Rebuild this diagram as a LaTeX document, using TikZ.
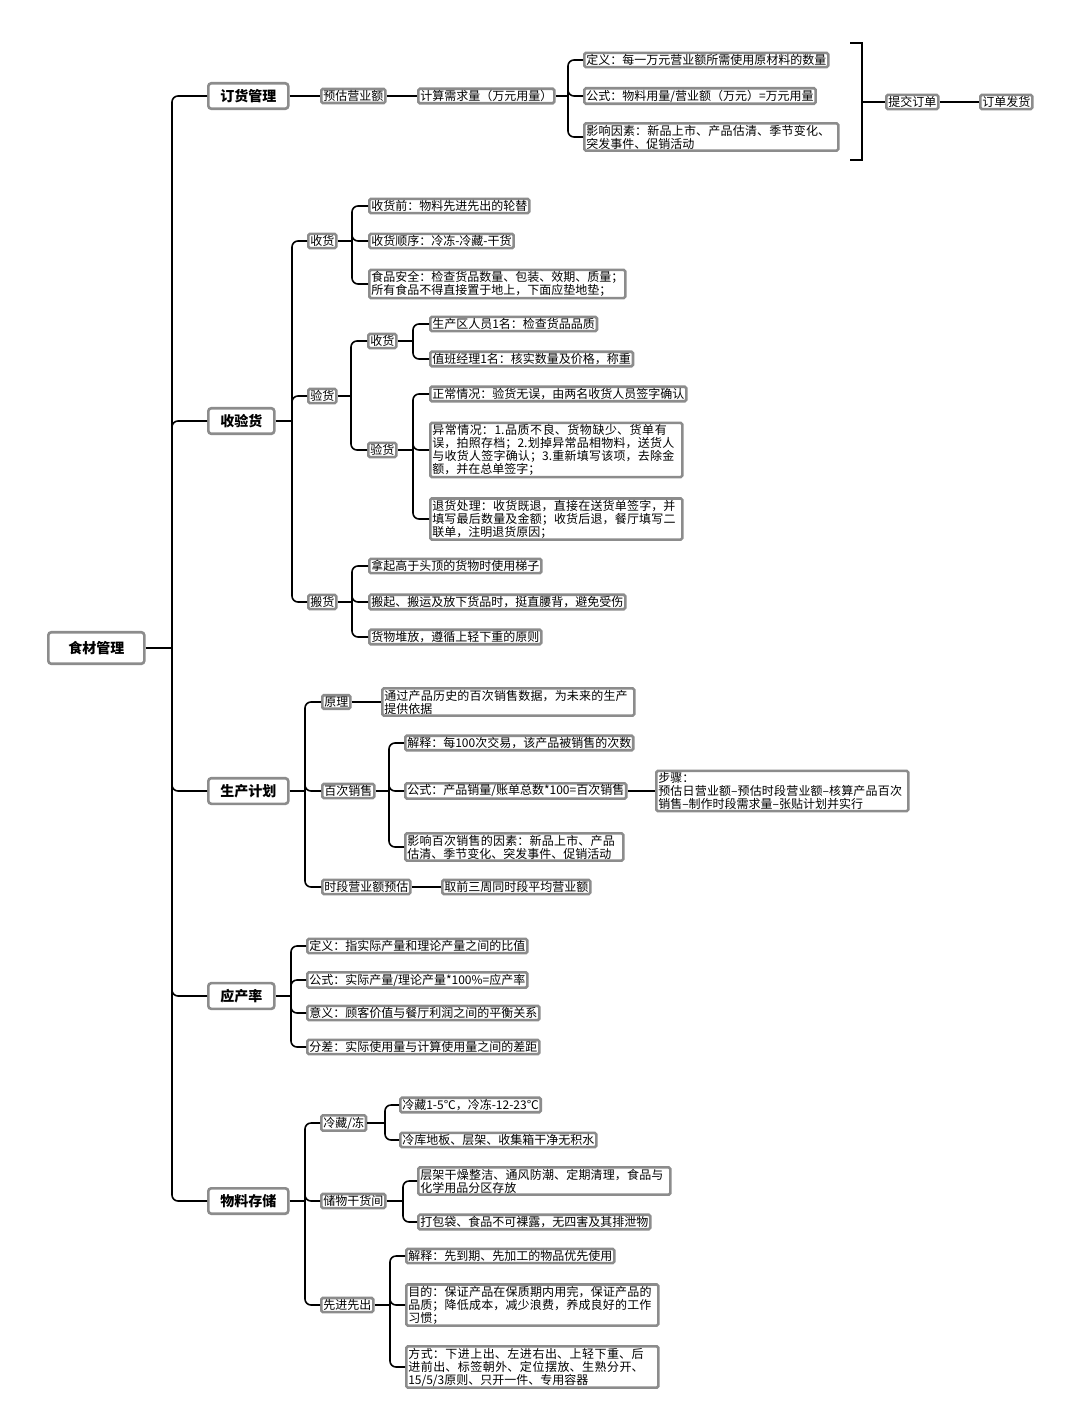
\documentclass[tikz,border=0pt]{standalone}
\usepackage{fontspec}
\setmainfont{Noto Sans CJK SC}
\XeTeXlinebreaklocale "zh"
\XeTeXlinebreakskip=0pt plus 1pt
\begin{document}
\begin{tikzpicture}[x=1pt,y=-1pt,
 b/.style={draw=black!45,line width=2.6pt,fill=white,rounded corners=1.5pt,inner xsep=2pt,inner ysep=1.5pt,anchor=west,align=left,font=\fontsize{12}{13}\selectfont},
 m/.style={b,font=\fontsize{14}{16}\selectfont\bfseries,inner xsep=12pt,inner ysep=6pt,rounded corners=3pt},
 conn/.style={line width=1.6pt,black}]
\fill[white] (0,0) rectangle (1080,1406);
\newcommand\brk[3]{%
 \coordinate (bx) at (#2,0);
 \draw[conn] (#1.east) -- (bx |- #1.east);
 \foreach \c in {#3}{\draw[conn,rounded corners=6pt] (bx |- #1.east) |- (\c.west);}}
% root and main
\node[m,inner xsep=20pt,inner ysep=9pt] (root) at (47,648) {食材管理};
\node[m] (a) at (207,96) {订货管理};
\node[m] (b) at (207,421) {收验货};
\node[m] (c) at (207,791) {生产计划};
\node[m] (d) at (207,996) {应产率};
\node[m] (e) at (207,1201) {物料存储};
\brk{root}{172}{a,b,c,d,e}
% 订货管理
\node[b] (a1) at (320,96) {预估营业额};
\node[b] (a2) at (417,96) {计算需求量（万元用量）};
\draw[conn] (a.east) -- (a1.west); \draw[conn] (a1.east) -- (a2.west);
\node[b] (a3) at (583,60) {定义：每一万元营业额所需使用原材料的数量};
\node[b] (a4) at (583,96) {公式：物料用量/营业额（万元）=万元用量};
\node[b,text width=250pt] (a5) at (583,137) {影响因素：新品上市、产品估清、季节变化、突发事件、促销活动};
\brk{a2}{568}{a3,a4,a5}
\coordinate (t1) at (850,43); \coordinate (t2) at (850,160);
\node[b] (a6) at (885,102) {提交订单};
\node[b] (a7) at (979,102) {订单发货};
\draw[conn] (t1) -- (862,43) -- (862,160) -- (t2);
\draw[conn] (862,102) -- (a6.west); \draw[conn] (a6.east) -- (a7.west);
% 收验货
\node[b] (b1) at (307,241) {收货};
\node[b] (b2) at (307,396) {验货};
\node[b] (b3) at (307,602) {搬货};
\brk{b}{292}{b1,b2,b3}
\node[b] (b11) at (368,206) {收货前：物料先进先出的轮替};
\node[b] (b12) at (368,241) {收货顺序：冷冻-冷藏-干货};
\node[b] (b13) at (368,284) {食品安全：检查货品数量、包装、效期、质量；\\所有食品不得直接置于地上，下面应垫地垫；};
\brk{b1}{352}{b11,b12,b13}
\node[b] (b21) at (367,341) {收货};
\node[b] (b22) at (367,450) {验货};
\brk{b2}{351}{b21,b22}
\node[b] (b211) at (429,324) {生产区人员1名：检查货品品质};
\node[b] (b212) at (429,359) {值班经理1名：核实数量及价格，称重};
\brk{b21}{413}{b211,b212}
\node[b] (b221) at (429,394) {正常情况：验货无误，由两名收货人员签字确认};
\node[b,text width=248pt] (b222) at (429,450) {异常情况：1.品质不良、货物缺少、货单有误，拍照存档；2.划掉异常品相物料，送货人与收货人签字确认；3.重新填写该项，去除金额，并在总单签字；};
\node[b,text width=248pt] (b223) at (429,519) {退货处理：收货既退，直接在送货单签字，并填写最后数量及金额；收货后退，餐厅填写二联单，注明退货原因；};
\brk{b22}{413}{b221,b222,b223}
\node[b] (b31) at (368,566) {拿起高于头顶的货物时使用梯子};
\node[b] (b32) at (368,602) {搬起、搬运及放下货品时，挺直腰背，避免受伤};
\node[b] (b33) at (368,637) {货物堆放，遵循上轻下重的原则};
\brk{b3}{352}{b31,b32,b33}
% 生产计划
\node[b] (c1) at (321,702) {原理};
\node[b] (c2) at (321,791) {百次销售};
\node[b] (c3) at (321,887) {时段营业额预估};
\brk{c}{305}{c1,c2,c3}
\node[b,text width=248pt] (c11) at (381,702) {通过产品历史的百次销售数据，为未来的生产提供依据};
\draw[conn] (c1.east) -- (c11.west);
\node[b] (c21) at (404,743) {解释：每100次交易，该产品被销售的次数};
\node[b] (c22) at (404,791) {公式：产品销量/账单总数*100=百次销售};
\node[b,text width=214pt] (c23) at (404,847) {影响百次销售的因素：新品上市、产品估清、季节变化、突发事件、促销活动};
\brk{c2}{389}{c21,c22,c23}
\node[b,text width=248pt] (c221) at (655,791) {步骤：\\预估日营业额--预估时段营业额--核算产品百次销售--制作时段需求量--张贴计划并实行};
\draw[conn] (c22.east) -- (c221.west);
\node[b] (c31) at (441,887) {取前三周同时段平均营业额};
\draw[conn] (c3.east) -- (c31.west);
% 应产率
\node[b] (d1) at (306,946) {定义：指实际产量和理论产量之间的比值};
\node[b] (d2) at (306,980) {公式：实际产量/理论产量*100\%=应产率};
\node[b] (d3) at (306,1013) {意义：顾客价值与餐厅利润之间的平衡关系};
\node[b] (d4) at (306,1047) {分差：实际使用量与计算使用量之间的差距};
\brk{d}{291}{d1,d2,d3,d4}
% 物料存储
\node[b] (e1) at (320,1123) {冷藏/冻};
\node[b] (e2) at (320,1201) {储物干货间};
\node[b] (e3) at (320,1305) {先进先出};
\brk{e}{305}{e1,e2,e3}
\node[b] (e11) at (399,1105) {冷藏1-5℃，冷冻-12-23℃};
\node[b] (e12) at (399,1140) {冷库地板、层架、收集箱干净无积水};
\brk{e1}{385}{e11,e12}
\node[b,text width=248pt] (e21) at (417,1181) {层架干燥整洁、通风防潮、定期清理，食品与化学用品分区存放};
\node[b] (e22) at (417,1222) {打包袋、食品不可裸露，无四害及其排泄物};
\brk{e2}{403}{e21,e22}
\node[b] (e31) at (405,1256) {解释：先到期、先加工的物品优先使用};
\node[b,text width=248pt] (e32) at (405,1305) {目的：保证产品在保质期内用完，保证产品的品质；降低成本，减少浪费，养成良好的工作习惯；};
\node[b,text width=248pt] (e33) at (405,1367) {方式：下进上出、左进右出、上轻下重、后进前出、标签朝外、定位摆放、生熟分开、15/5/3原则、只开一件、专用容器};
\brk{e3}{390}{e31,e32,e33}
\end{tikzpicture}
\end{document}
